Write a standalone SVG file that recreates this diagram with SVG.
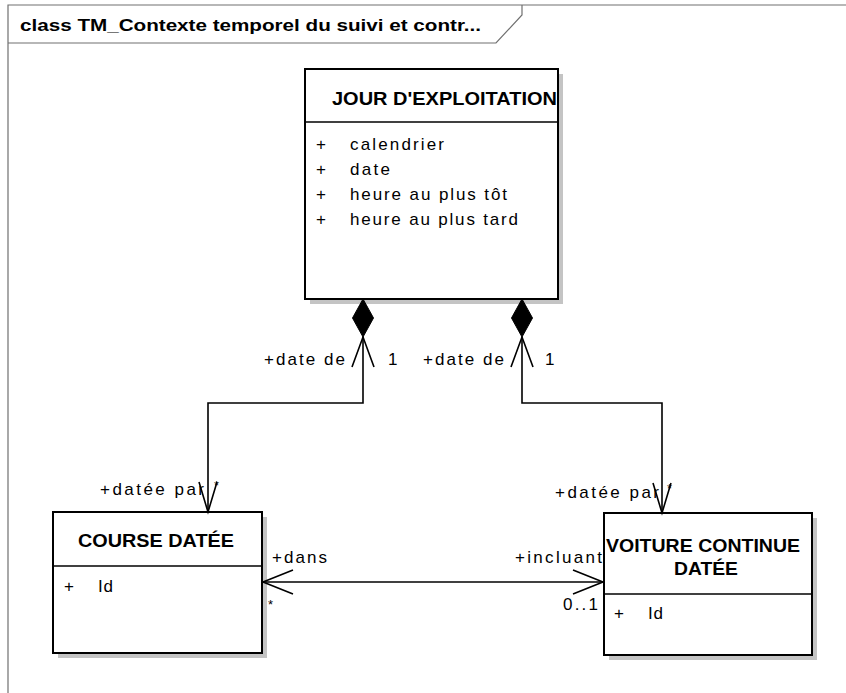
<svg xmlns="http://www.w3.org/2000/svg" width="846" height="693" viewBox="0 0 846 693">
  <style>
    .frame { fill: none; stroke: #707070; stroke-width: 1.2; }
    .shadow { fill: #c4c4c4; stroke: none; }
    .box { fill: #ffffff; stroke: #000000; stroke-width: 2; }
    .sep { stroke: #000000; stroke-width: 1.5; }
    .conn { fill: none; stroke: #000000; stroke-width: 1.6; }
    .diamond { fill: #000000; stroke: #000000; stroke-width: 1; }
    .name { font-family: "Liberation Sans", Arial, sans-serif; font-weight: bold; font-size: 19px; fill: #000; }
    .title { font-family: "Liberation Sans", Arial, sans-serif; font-weight: bold; font-size: 16px; fill: #000; }
    .txt { font-family: "Liberation Sans", Arial, sans-serif; font-size: 17px; fill: #000; }
    .small { font-family: "Liberation Sans", Arial, sans-serif; font-size: 13px; fill: #000; }
  </style>
  <rect width="846" height="693" fill="#ffffff"/>

  <!-- diagram frame with name tab -->
  <g id="frame">
    <path class="frame" d="M8,693 V5 H846"/>
    <path class="frame" d="M8,43 H496 L522,15 V5"/>
    <text class="title" x="20" y="31" textLength="461" lengthAdjust="spacingAndGlyphs">class TM_Contexte temporel du suivi et contr...</text>
  </g>

  <!-- class JOUR D'EXPLOITATION -->
  <g id="jour-exploitation">
    <rect class="shadow" x="310" y="74" width="253" height="230"/>
    <rect class="box" x="305" y="69" width="253" height="230"/>
    <line class="sep" x1="305" y1="122" x2="558" y2="122"/>
    <text class="name" x="332" y="105" textLength="225" lengthAdjust="spacingAndGlyphs">JOUR D'EXPLOITATION</text>
    <text class="txt" x="316" y="150">+</text>
    <text class="txt" x="350" y="150" textLength="94" lengthAdjust="spacing">calendrier</text>
    <text class="txt" x="316" y="175">+</text>
    <text class="txt" x="350" y="175" textLength="40" lengthAdjust="spacing">date</text>
    <text class="txt" x="316" y="200">+</text>
    <text class="txt" x="350" y="200" textLength="157" lengthAdjust="spacing">heure au plus tôt</text>
    <text class="txt" x="316" y="225">+</text>
    <text class="txt" x="350" y="225" textLength="168" lengthAdjust="spacing">heure au plus tard</text>
  </g>

  <!-- class COURSE DATÉE -->
  <g id="course-datee">
    <rect class="shadow" x="58" y="517" width="209" height="141"/>
    <rect class="box" x="53" y="512" width="209" height="141"/>
    <line class="sep" x1="53" y1="566" x2="262" y2="566"/>
    <text class="name" x="78" y="547" textLength="156" lengthAdjust="spacingAndGlyphs">COURSE DATÉE</text>
    <text class="txt" x="64" y="592">+</text>
    <text class="txt" x="98" y="592" textLength="15" lengthAdjust="spacing">Id</text>
  </g>

  <!-- class VOITURE CONTINUE DATÉE -->
  <g id="voiture-continue-datee">
    <rect class="shadow" x="609" y="518" width="208" height="142"/>
    <rect class="box" x="604" y="513" width="208" height="142"/>
    <line class="sep" x1="604" y1="594" x2="812" y2="594"/>
    <text class="name" x="606" y="552" textLength="194" lengthAdjust="spacingAndGlyphs">VOITURE CONTINUE</text>
    <text class="name" x="674" y="575" textLength="64" lengthAdjust="spacingAndGlyphs">DATÉE</text>
    <text class="txt" x="614" y="619">+</text>
    <text class="txt" x="648" y="619" textLength="15" lengthAdjust="spacing">Id</text>
  </g>

  <!-- associations -->
  <g id="connectors">
    <!-- composition: JOUR D'EXPLOITATION -> COURSE DATÉE -->
    <polyline class="conn" points="363,337 363,403 208,403 208,512"/>
    <polygon class="diamond" points="363,299 373.5,318 363,337 352.5,318"/>
    <polyline class="conn" points="352,367 363,337 374,367"/>
    <polyline class="conn" points="199,482 208,512 217,482"/>

    <!-- composition: JOUR D'EXPLOITATION -> VOITURE CONTINUE DATÉE -->
    <polyline class="conn" points="522,337 522,403 662,403 662,513"/>
    <polygon class="diamond" points="522,299 532.5,318 522,337 511.5,318"/>
    <polyline class="conn" points="511,367 522,337 533,367"/>
    <polyline class="conn" points="653,483 662,513 671,483"/>

    <!-- bidirectional association COURSE DATÉE <-> VOITURE CONTINUE DATÉE -->
    <line class="conn" x1="263" y1="582" x2="603" y2="582"/>
    <polyline class="conn" points="293,570 263,582 293,594"/>
    <polyline class="conn" points="573,570 603,582 573,594"/>

    <!-- role names and multiplicities -->
    <text class="txt" x="264" y="365" textLength="81" lengthAdjust="spacing">+date de</text>
    <text class="txt" x="388" y="365">1</text>
    <text class="txt" x="423" y="365" textLength="81" lengthAdjust="spacing">+date de</text>
    <text class="txt" x="545" y="365">1</text>
    <text class="txt" x="100" y="495" textLength="104" lengthAdjust="spacing">+datée par</text>
    <text class="small" x="214" y="490">*</text>
    <text class="txt" x="555" y="498" textLength="104" lengthAdjust="spacing">+datée par</text>
    <text class="small" x="667" y="493">*</text>
    <text class="txt" x="272" y="563" textLength="55" lengthAdjust="spacing">+dans</text>
    <text class="small" x="268" y="609">*</text>
    <text class="txt" x="515" y="563" textLength="87" lengthAdjust="spacing">+incluant</text>
    <text class="txt" x="563" y="610" textLength="35" lengthAdjust="spacing">0..1</text>
  </g>
</svg>
